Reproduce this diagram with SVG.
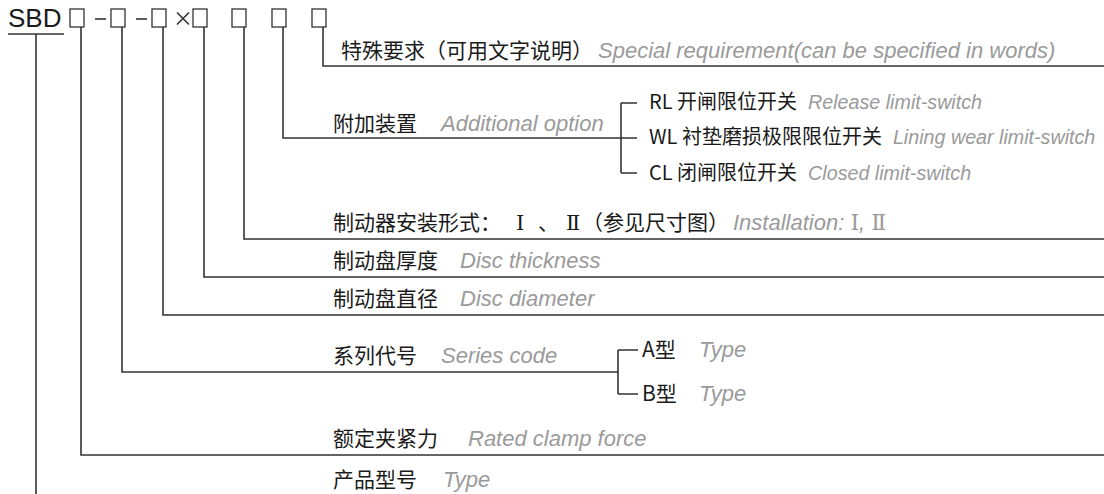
<svg xmlns="http://www.w3.org/2000/svg" width="1104" height="494" viewBox="0 0 1104 494">
<style>
.ln{fill:none;stroke:#333;stroke-width:1.6}
.bx{fill:#fff;stroke:#333;stroke-width:1.3}
.t{font-family:"Noto Sans CJK SC","Liberation Sans",sans-serif;font-size:21px;fill:#1a1a1a}
.s{font-size:20px}
.en{font-family:"Liberation Sans",Arial,sans-serif;font-style:italic;fill:#9a9a9a;font-size:22px}
.es{font-size:19.7px}
.rn{font-family:"DejaVu Serif","Liberation Serif",serif;font-style:normal}
</style>
<rect width="1104" height="494" fill="#fff"/>
<g id="code">
<text x="8" y="27" font-family="Liberation Sans,Arial,sans-serif" font-size="26" fill="#1a1a1a">SBD</text>
<line class="ln" x1="8" y1="34" x2="64" y2="34"/>
<rect class="bx" x="70" y="9" width="14" height="18"/>
<line class="ln" x1="95" y1="19" x2="106" y2="19" stroke-width="1"/>
<rect class="bx" x="111" y="9" width="14" height="18"/>
<line class="ln" x1="136" y1="19" x2="147" y2="19" stroke-width="1"/>
<rect class="bx" x="152" y="9" width="14" height="18"/>
<path class="ln" d="M177,12.5 L189,24.5 M189,12.5 L177,24.5" stroke-width="1"/>
<rect class="bx" x="193" y="9" width="14" height="18"/>
<rect class="bx" x="232" y="9" width="14" height="18"/>
<rect class="bx" x="272" y="9" width="14" height="18"/>
<rect class="bx" x="312" y="9" width="14" height="18"/>
</g>
<g id="connectors">
<path class="ln" d="M323,27 V66 H1104"/>
<path class="ln" d="M283,27 V138 H621"/>
<path class="ln" d="M621,103 V173 M621,103 H637 M621,138 H637 M621,173 H637"/>
<path class="ln" d="M244,27 V239 H1104"/>
<path class="ln" d="M204,27 V277 H1104"/>
<path class="ln" d="M163,27 V315 H1104"/>
<path class="ln" d="M122,27 V372 H618"/>
<path class="ln" d="M618,350 V394 M618,350 H638 M618,394 H638"/>
<path class="ln" d="M81,27 V455 H1104"/>
<path class="ln" d="M36,34 V494"/>
</g>
<g id="special">
<text class="t" x="341" y="58">特殊要求（可用文字说明）</text>
<text class="en" x="598" y="58" font-size="23">Special requirement(can be specified in words)</text>
</g>
<g id="option">
<text class="t" x="333" y="131">附加装置</text>
<text class="en" x="441" y="131">Additional option</text>
</g>
<g id="opt-rl">
<text class="t s" x="649" y="109">RL 开闸限位开关<tspan class="en es" dx="11">Release limit-switch</tspan></text>
</g>
<g id="opt-wl">
<text class="t s" x="649" y="144">WL 衬垫磨损极限限位开关<tspan class="en es" dx="11">Lining wear limit-switch</tspan></text>
</g>
<g id="opt-cl">
<text class="t s" x="649" y="180">CL 闭闸限位开关<tspan class="en es" dx="11">Closed limit-switch</tspan></text>
</g>
<g id="install">
<text class="t" x="333" y="230">制动器安装形式：<tspan class="rn" x="516">Ⅰ</tspan><tspan x="538">、</tspan><tspan class="rn" x="566">Ⅱ</tspan><tspan x="582">（参见尺寸图）</tspan></text>
<text class="en" x="733" y="230">Installation: <tspan class="rn">Ⅰ</tspan>, <tspan class="rn">Ⅱ</tspan></text>
</g>
<g id="thickness">
<text class="t" x="333" y="268">制动盘厚度</text>
<text class="en" x="460" y="268">Disc thickness</text>
</g>
<g id="diameter">
<text class="t" x="333" y="306">制动盘直径</text>
<text class="en" x="460" y="306">Disc diameter</text>
</g>
<g id="series">
<text class="t" x="333" y="363">系列代号</text>
<text class="en" x="441" y="363">Series code</text>
</g>
<g id="type-a">
<text class="t" x="642" y="357">A型</text>
<text class="en" x="699" y="357" font-size="21">Type</text>
</g>
<g id="type-b">
<text class="t" x="642" y="401">B型</text>
<text class="en" x="699" y="401" font-size="21">Type</text>
</g>
<g id="clamp">
<text class="t" x="333" y="446">额定夹紧力</text>
<text class="en" x="468" y="446">Rated clamp force</text>
</g>
<g id="product">
<text class="t" x="333" y="487">产品型号</text>
<text class="en" x="443" y="487">Type</text>
</g>
</svg>
